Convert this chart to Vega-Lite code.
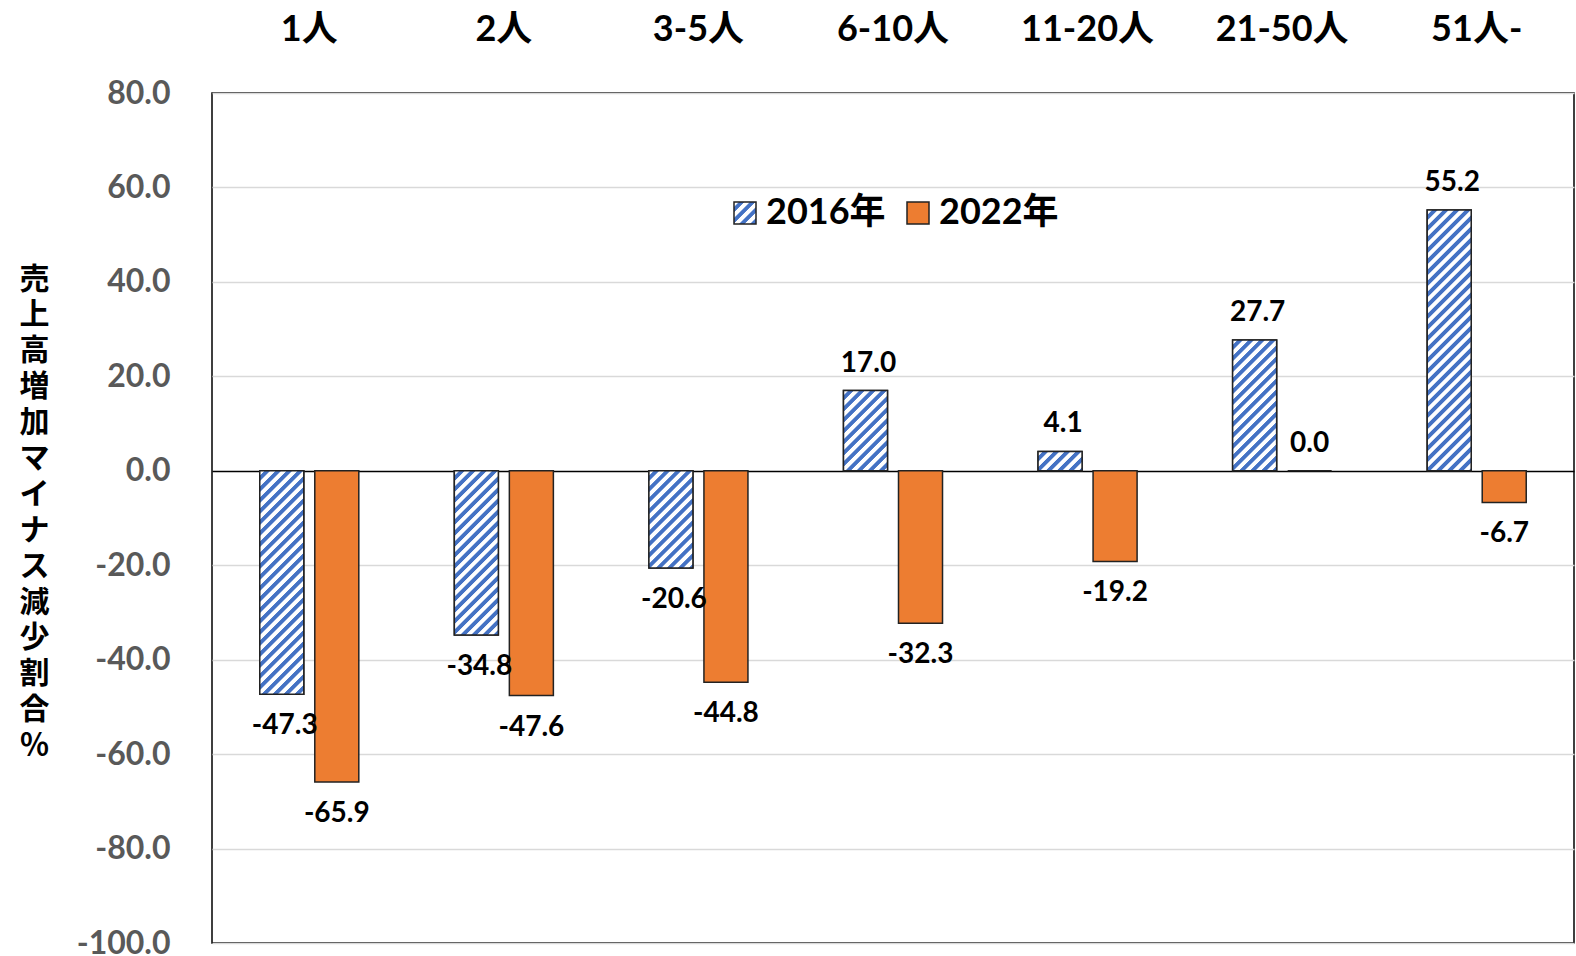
{
  "$schema": "https://vega.github.io/schema/vega-lite/v6.json",
  "width": 1362,
  "height": 850,
  "autosize": {"type": "none"},
  "padding": {"left": 212, "top": 93, "right": 2, "bottom": 13},
  "background": "white",
  "config": {
    "view": {"stroke": "#000", "strokeWidth": 1.5},
    "font": "Lato",
    "locale": {"number": {"decimal": ".", "thousands": ",", "grouping": [3], "currency": ["$", ""], "minus": "-"}}
  },
  "params": [
    {"name": "legendHatch", "value": {"gradient": "linear", "x1": 0, "y1": 0, "x2": 1, "y2": 1, "stops": [
      {"offset": 0, "color": "#ffffff"}, {"offset": 0.1, "color": "#ffffff"}, {"offset": 0.125, "color": "#4472C4"}, {"offset": 0.225, "color": "#4472C4"},
      {"offset": 0.25, "color": "#ffffff"}, {"offset": 0.35, "color": "#ffffff"}, {"offset": 0.375, "color": "#4472C4"}, {"offset": 0.475, "color": "#4472C4"},
      {"offset": 0.5, "color": "#ffffff"}, {"offset": 0.6, "color": "#ffffff"}, {"offset": 0.625, "color": "#4472C4"}, {"offset": 0.725, "color": "#4472C4"},
      {"offset": 0.75, "color": "#ffffff"}, {"offset": 0.85, "color": "#ffffff"}, {"offset": 0.875, "color": "#4472C4"}, {"offset": 0.975, "color": "#4472C4"},
      {"offset": 1, "color": "#ffffff"}
    ]}},
    {"name": "hatch", "value": [
      {"offset": 0, "color": "#ffffff"}, {"offset": 0.01333, "color": "#ffffff"}, {"offset": 0.01667, "color": "#4472C4"}, {"offset": 0.03, "color": "#4472C4"},
      {"offset": 0.03333, "color": "#ffffff"}, {"offset": 0.04667, "color": "#ffffff"}, {"offset": 0.05, "color": "#4472C4"}, {"offset": 0.06333, "color": "#4472C4"},
      {"offset": 0.06667, "color": "#ffffff"}, {"offset": 0.08, "color": "#ffffff"}, {"offset": 0.08333, "color": "#4472C4"}, {"offset": 0.09667, "color": "#4472C4"},
      {"offset": 0.1, "color": "#ffffff"}, {"offset": 0.11333, "color": "#ffffff"}, {"offset": 0.11667, "color": "#4472C4"}, {"offset": 0.13, "color": "#4472C4"},
      {"offset": 0.13333, "color": "#ffffff"}, {"offset": 0.14667, "color": "#ffffff"}, {"offset": 0.15, "color": "#4472C4"}, {"offset": 0.16333, "color": "#4472C4"},
      {"offset": 0.16667, "color": "#ffffff"}, {"offset": 0.18, "color": "#ffffff"}, {"offset": 0.18333, "color": "#4472C4"}, {"offset": 0.19667, "color": "#4472C4"},
      {"offset": 0.2, "color": "#ffffff"}, {"offset": 0.21333, "color": "#ffffff"}, {"offset": 0.21667, "color": "#4472C4"}, {"offset": 0.23, "color": "#4472C4"},
      {"offset": 0.23333, "color": "#ffffff"}, {"offset": 0.24667, "color": "#ffffff"}, {"offset": 0.25, "color": "#4472C4"}, {"offset": 0.26333, "color": "#4472C4"},
      {"offset": 0.26667, "color": "#ffffff"}, {"offset": 0.28, "color": "#ffffff"}, {"offset": 0.28333, "color": "#4472C4"}, {"offset": 0.29667, "color": "#4472C4"},
      {"offset": 0.3, "color": "#ffffff"}, {"offset": 0.31333, "color": "#ffffff"}, {"offset": 0.31667, "color": "#4472C4"}, {"offset": 0.33, "color": "#4472C4"},
      {"offset": 0.33333, "color": "#ffffff"}, {"offset": 0.34667, "color": "#ffffff"}, {"offset": 0.35, "color": "#4472C4"}, {"offset": 0.36333, "color": "#4472C4"},
      {"offset": 0.36667, "color": "#ffffff"}, {"offset": 0.38, "color": "#ffffff"}, {"offset": 0.38333, "color": "#4472C4"}, {"offset": 0.39667, "color": "#4472C4"},
      {"offset": 0.4, "color": "#ffffff"}, {"offset": 0.41333, "color": "#ffffff"}, {"offset": 0.41667, "color": "#4472C4"}, {"offset": 0.43, "color": "#4472C4"},
      {"offset": 0.43333, "color": "#ffffff"}, {"offset": 0.44667, "color": "#ffffff"}, {"offset": 0.45, "color": "#4472C4"}, {"offset": 0.46333, "color": "#4472C4"},
      {"offset": 0.46667, "color": "#ffffff"}, {"offset": 0.48, "color": "#ffffff"}, {"offset": 0.48333, "color": "#4472C4"}, {"offset": 0.49667, "color": "#4472C4"},
      {"offset": 0.5, "color": "#ffffff"}, {"offset": 0.51333, "color": "#ffffff"}, {"offset": 0.51667, "color": "#4472C4"}, {"offset": 0.53, "color": "#4472C4"},
      {"offset": 0.53333, "color": "#ffffff"}, {"offset": 0.54667, "color": "#ffffff"}, {"offset": 0.55, "color": "#4472C4"}, {"offset": 0.56333, "color": "#4472C4"},
      {"offset": 0.56667, "color": "#ffffff"}, {"offset": 0.58, "color": "#ffffff"}, {"offset": 0.58333, "color": "#4472C4"}, {"offset": 0.59667, "color": "#4472C4"},
      {"offset": 0.6, "color": "#ffffff"}, {"offset": 0.61333, "color": "#ffffff"}, {"offset": 0.61667, "color": "#4472C4"}, {"offset": 0.63, "color": "#4472C4"},
      {"offset": 0.63333, "color": "#ffffff"}, {"offset": 0.64667, "color": "#ffffff"}, {"offset": 0.65, "color": "#4472C4"}, {"offset": 0.66333, "color": "#4472C4"},
      {"offset": 0.66667, "color": "#ffffff"}, {"offset": 0.68, "color": "#ffffff"}, {"offset": 0.68333, "color": "#4472C4"}, {"offset": 0.69667, "color": "#4472C4"},
      {"offset": 0.7, "color": "#ffffff"}, {"offset": 0.71333, "color": "#ffffff"}, {"offset": 0.71667, "color": "#4472C4"}, {"offset": 0.73, "color": "#4472C4"},
      {"offset": 0.73333, "color": "#ffffff"}, {"offset": 0.74667, "color": "#ffffff"}, {"offset": 0.75, "color": "#4472C4"}, {"offset": 0.76333, "color": "#4472C4"},
      {"offset": 0.76667, "color": "#ffffff"}, {"offset": 0.78, "color": "#ffffff"}, {"offset": 0.78333, "color": "#4472C4"}, {"offset": 0.79667, "color": "#4472C4"},
      {"offset": 0.8, "color": "#ffffff"}, {"offset": 0.81333, "color": "#ffffff"}, {"offset": 0.81667, "color": "#4472C4"}, {"offset": 0.83, "color": "#4472C4"},
      {"offset": 0.83333, "color": "#ffffff"}, {"offset": 0.84667, "color": "#ffffff"}, {"offset": 0.85, "color": "#4472C4"}, {"offset": 0.86333, "color": "#4472C4"},
      {"offset": 0.86667, "color": "#ffffff"}, {"offset": 0.88, "color": "#ffffff"}, {"offset": 0.88333, "color": "#4472C4"}, {"offset": 0.89667, "color": "#4472C4"},
      {"offset": 0.9, "color": "#ffffff"}, {"offset": 0.91333, "color": "#ffffff"}, {"offset": 0.91667, "color": "#4472C4"}, {"offset": 0.93, "color": "#4472C4"},
      {"offset": 0.93333, "color": "#ffffff"}, {"offset": 0.94667, "color": "#ffffff"}, {"offset": 0.95, "color": "#4472C4"}, {"offset": 0.96333, "color": "#4472C4"},
      {"offset": 0.96667, "color": "#ffffff"}, {"offset": 0.98, "color": "#ffffff"}, {"offset": 0.98333, "color": "#4472C4"}, {"offset": 0.99667, "color": "#4472C4"},
      {"offset": 1, "color": "#ffffff"}
    ]}
  ],
  "data": {"values": [
    {"size": "1人", "year": "2016年", "value": -47.3},
    {"size": "1人", "year": "2022年", "value": -65.9},
    {"size": "2人", "year": "2016年", "value": -34.8},
    {"size": "2人", "year": "2022年", "value": -47.6},
    {"size": "3-5人", "year": "2016年", "value": -20.6},
    {"size": "3-5人", "year": "2022年", "value": -44.8},
    {"size": "6-10人", "year": "2016年", "value": 17.0},
    {"size": "6-10人", "year": "2022年", "value": -32.3},
    {"size": "11-20人", "year": "2016年", "value": 4.1},
    {"size": "11-20人", "year": "2022年", "value": -19.2},
    {"size": "21-50人", "year": "2016年", "value": 27.7},
    {"size": "21-50人", "year": "2022年", "value": 0.0},
    {"size": "51人-", "year": "2016年", "value": 55.2},
    {"size": "51人-", "year": "2022年", "value": -6.7}
  ]},
  "encoding": {
    "x": {
      "field": "size", "type": "nominal",
      "sort": ["1人", "2人", "3-5人", "6-10人", "11-20人", "21-50人", "51人-"],
      "scale": {"paddingInner": 0.491, "paddingOuter": 0.2455},
      "axis": {
        "orient": "top", "title": null, "labelAngle": 0, "domain": false, "ticks": false, "grid": false,
        "labelPadding": 64, "labelBaseline": "middle", "labelFontSize": 36, "labelFontWeight": "bold",
        "labelColor": "#000", "labelFont": "Lato, Noto Sans CJK JP"
      }
    },
    "xOffset": {"field": "year", "type": "nominal", "scale": {"domain": ["2016年", "2022年"], "paddingInner": 0.2}},
    "y": {
      "field": "value", "type": "quantitative", "stack": null,
      "scale": {"domain": [-100, 80], "nice": false},
      "axis": {
        "title": ["売", "上", "高", "増", "加", "マ", "イ", "ナ", "ス", "減", "少", "割", "合", "％"],
        "titleAngle": 0, "titleFontSize": 30, "titleFont": "Noto Sans CJK JP", "titleFontWeight": "bold",
        "titleColor": "#000", "titleLineHeight": 35.9, "titleX": -178, "titleY": 171,
        "titleAlign": "center", "titleBaseline": "top",
        "values": [-100, -80, -60, -40, -20, 0, 20, 40, 60, 80], "format": ".1f",
        "labelFontSize": 32, "labelFontWeight": "bold", "labelColor": "#595959", "labelFont": "Lato",
        "labelPadding": 42, "domain": false, "ticks": false,
        "gridColor": {"condition": {"test": "datum.value === 0", "value": "#000000"}, "value": "#D9D9D9"},
        "gridWidth": 1.5
      }
    }
  },
  "layer": [
    {
      "mark": {"type": "bar", "stroke": "#222", "strokeWidth": 1.5},
      "encoding": {
        "color": {
          "field": "year", "type": "nominal",
          "scale": {"domain": ["2016年", "2022年"], "range": [{"expr": "legendHatch"}, "#ED7D31"]},
          "legend": {
            "orient": "none", "legendX": 515, "legendY": 102, "direction": "horizontal", "title": null,
            "symbolType": "square", "symbolSize": 484, "symbolStrokeColor": "#222", "symbolStrokeWidth": 1.5,
            "labelFontSize": 36, "labelFont": "Lato, Noto Sans CJK JP", "labelFontWeight": "bold", "labelColor": "#000",
            "labelOffset": 3, "columnPadding": 14,
            "encode": {"symbols": {"update": {
              "stroke": {"value": "#222222"},
              "strokeWidth": {"value": 1.5},
              "opacity": {"value": 1}
            }}}
          }
        }
      }
    },
    {
      "transform": [{"filter": "datum.year === '2016年'"}],
      "mark": {
        "type": "bar", "stroke": "#222", "strokeWidth": 1.5,
        "fill": {"expr": "{gradient:'linear',x1:0,y1:0,x2:44*330/(44*44+pow(abs(datum.value)*4.722,2)),y2:abs(datum.value)*4.722*330/(44*44+pow(abs(datum.value)*4.722,2)),stops:hatch}"}
      }
    },
    {
      "mark": {
        "type": "text", "fontSize": 28, "fontWeight": "bold", "font": "Lato", "color": "#000",
        "dy": {"expr": "datum.value >= 0 ? -27 : 32"},
        "dx": {"expr": "datum.year === '2016年' ? 3 : 0"}
      },
      "encoding": {"text": {"field": "value", "type": "quantitative", "format": ".1f"}}
    }
  ]
}
